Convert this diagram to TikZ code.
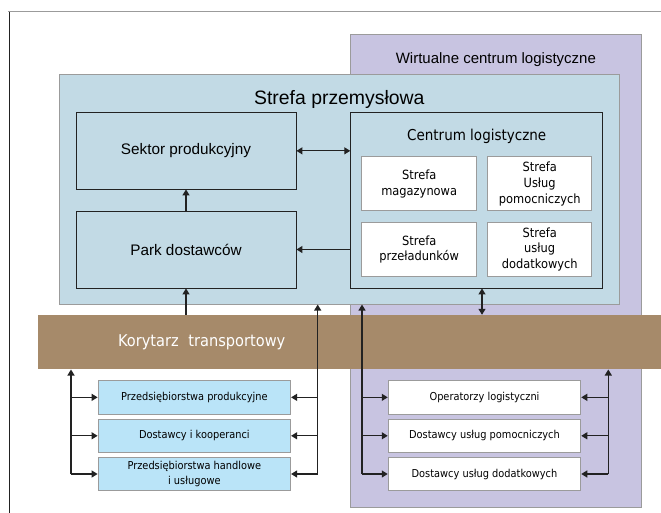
\documentclass[tikz,border=0pt]{standalone}
\usepackage{fontspec}
\setmainfont{Liberation Sans}
\newfontfamily\tahfont[FakeStretch=0.9]{DejaVu Sans}
\usetikzlibrary{arrows.meta,calc}
\definecolor{zoneblue}{RGB}{194,218,229}
\definecolor{virt}{RGB}{200,196,225}
\definecolor{corrbrown}{RGB}{166,138,106}
\definecolor{firmblue}{RGB}{186,228,248}
\definecolor{edgegray}{RGB}{155,155,155}
\definecolor{ink}{RGB}{34,34,34}
\begin{document}
\begin{tikzpicture}[x=1pt,y=-1pt,
  area/.style={draw=edgegray, line width=1pt, inner sep=0pt},
  darkbox/.style={draw=ink, line width=0.85pt, inner sep=0pt, fill=zoneblue, align=center,
     font=\fontsize{15.3}{18}\selectfont},
  cellbox/.style={draw=edgegray, line width=1pt, fill=white, inner sep=0pt, align=center,
     font=\tahfont\fontsize{12.7}{15.7}\selectfont},
  firmbox/.style={draw=edgegray, line width=1pt, inner sep=0pt, align=center,
     minimum width=192.5pt, minimum height=33.3pt,
     font=\tahfont\fontsize{10.9}{14.7}\selectfont},
  arr/.style={draw=ink, line width=1.2pt, -{Triangle[length=6pt,width=7pt]}},
  dbl/.style={draw=ink, line width=1.2pt, {Triangle[length=6pt,width=7pt]}-{Triangle[length=6pt,width=7pt]}},
]
\useasboundingbox (0,0) rectangle (661,513);
\fill[white] (0,0) rectangle (661,513);

% page frame
\draw[edgegray, line width=1pt] (8,12) -- (661,12);
\draw[ink, line width=1pt] (9,12) -- (9,513);

% areas
\node[area, fill=virt, minimum width=291.7pt, minimum height=472.3pt] (virtual) at (495.85,271.15) {};
\node[font=\fontsize{15}{18}\selectfont] (vtitle) at (495.85,60) {Wirtualne centrum logistyczne};
\node[area, fill=zoneblue, minimum width=560pt, minimum height=229.7pt] (zone) at (339.3,189.2) {};
\node[font=\fontsize{19.4}{22}\selectfont] (ztitle) at (339.3,99) {Strefa przemysłowa};
\node[fill=corrbrown, inner sep=0pt, minimum width=623pt, minimum height=54.3pt] (corr) at (349.5,342.15) {};
\node[text=white, font=\tahfont\fontsize{16.2}{18}\selectfont] (ctext) at (201.7,342.5) {Korytarz\hspace{0.6em}transportowy};

% industrial zone boxes
\node[darkbox, minimum width=220pt, minimum height=76.3pt] (sektor) at (186,150.85) {Sektor produkcyjny};
\node[darkbox, minimum width=220pt, minimum height=77pt] (park) at (186,249.5) {Park dostawców};
\node[darkbox, minimum width=252pt, minimum height=175.3pt] (centrum) at (476.7,200.35) {};
\node[font=\tahfont\fontsize{15}{18}\selectfont] (ctitle) at (476.7,136.7) {Centrum logistyczne};
\node[cellbox, minimum width=115pt, minimum height=54.3pt] (mag) at (419.2,183.85) {Strefa\\magazynowa};
\node[cellbox, minimum width=104pt, minimum height=54.3pt] (pom) at (539.7,183.85) {Strefa\\Usług\\pomocniczych};
\node[cellbox, minimum width=115pt, minimum height=54.7pt] (prz) at (419.2,249.35) {Strefa\\przeładunków};
\node[cellbox, minimum width=104pt, minimum height=54.7pt] (dod) at (539.7,249.35) {Strefa\\usług\\dodatkowych};

% firms (left)
\node[firmbox, fill=firmblue] (f1) at (194.35,397.35) {Przedsiębiorstwa produkcyjne};
\node[firmbox, fill=firmblue] (f2) at (194.35,435.8) {Dostawcy i kooperanci};
\node[firmbox, fill=firmblue] (f3) at (194.35,474) {Przedsiębiorstwa handlowe\\i usługowe};

% operators (right)
\node[firmbox, fill=white] (g1) at (484.5,397.35) {Operatorzy logistyczni};
\node[firmbox, fill=white] (g2) at (484.5,435.8) {Dostawcy usług pomocniczych};
\node[firmbox, fill=white] (g3) at (484.5,474) {Dostawcy usług dodatkowych};

% connectors in the zone
\draw[dbl] (sektor.east) -- (sektor.east -| centrum.west);
\draw[arr] (centrum.west |- park.east) -- (park.east);
\draw[arr] (park.north) -- (sektor.south);
\draw[arr] (park.south |- corr.north) -- (park.south);
\coordinate (cx) at (482,0);
\draw[dbl] (cx |- centrum.south) -- (cx |- corr.north);

% left group
\coordinate (lL) at (71,474);
\coordinate (lR) at (317.7,474);
\draw[arr] (lL) -- (lL |- corr.south);
\draw[arr] (lR) -- (lR |- zone.south);
\foreach \f in {f1,f2,f3} {
  \draw[arr] (lL |- \f.west) -- (\f.west);
  \draw[arr] (lR |- \f.east) -- (\f.east);
}

% right group
\coordinate (rL) at (362,474);
\coordinate (rR) at (608.3,474);
\draw[arr] (rL) -- (rL |- zone.south);
\draw[arr] (rR) -- (rR |- corr.south);
\foreach \g in {g1,g2,g3} {
  \draw[arr] (rL |- \g.west) -- (\g.west);
  \draw[arr] (rR |- \g.east) -- (\g.east);
}
\end{tikzpicture}
\end{document}
